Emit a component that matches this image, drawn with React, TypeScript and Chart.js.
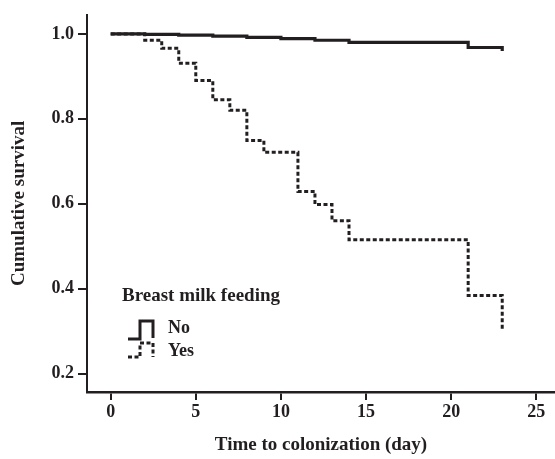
import React, { useEffect, useRef } from "react";
import { Chart, registerables } from "chart.js";

Chart.register(...registerables);

// Kaplan-Meier step data
const noTimes = [0, 2, 4, 6, 8, 10, 12, 14, 21, 23];
const noSurvival = [1.0, 0.999, 0.997, 0.995, 0.992, 0.989, 0.985, 0.98, 0.968, 0.96];
const yesTimes = [0, 2, 3, 4, 5, 6, 7, 8, 9, 11, 12, 13, 14, 21, 23];
const yesSurvival = [1.0, 0.985, 0.966, 0.931, 0.89, 0.845, 0.82, 0.749, 0.721, 0.629, 0.598, 0.56, 0.515, 0.384, 0.3];
const xTicks = [0, 5, 10, 15, 20, 25];
const yTicks = [0.2, 0.4, 0.6, 0.8, 1.0];
const legendTitle = "Breast milk feeding";
const seriesLabels = ["No", "Yes"];
const xTitle = "Time to colonization (day)";
const yTitle = "Cumulative survival";

const INK = "#231f20";
const FAMILY = '"Liberation Serif", "DejaVu Serif", serif';

const legendPlugin = {
  id: "kmLegend",
  afterDraw(chart: any) {
    const ctx = chart.ctx as CanvasRenderingContext2D;
    ctx.save();
    ctx.fillStyle = INK;
    ctx.strokeStyle = INK;
    ctx.textBaseline = "middle";
    ctx.textAlign = "left";
    ctx.font = `bold 19px ${FAMILY}`;
    ctx.fillText(legendTitle, 122, 296);

    // solid icon
    ctx.lineWidth = 3;
    ctx.setLineDash([]);
    ctx.beginPath();
    ctx.moveTo(128, 339);
    ctx.lineTo(140, 339);
    ctx.lineTo(140, 321);
    ctx.lineTo(153, 321);
    ctx.lineTo(153, 338);
    ctx.stroke();

    // dotted icon
    ctx.setLineDash([4, 2.5]);
    ctx.beginPath();
    ctx.moveTo(128, 357);
    ctx.lineTo(140, 357);
    ctx.lineTo(140, 343);
    ctx.lineTo(153, 343);
    ctx.lineTo(153, 357);
    ctx.stroke();
    ctx.setLineDash([]);

    ctx.font = `bold 18px ${FAMILY}`;
    ctx.fillText(seriesLabels[0], 168, 328);
    ctx.fillText(seriesLabels[1], 168, 351);
    ctx.restore();
  },
};

export default function App() {
  const ref = useRef<HTMLCanvasElement | null>(null);

  useEffect(() => {
    if (!ref.current) return;
    const chart = new Chart(ref.current, {
      type: "line",
      data: {
        datasets: [
          {
            label: seriesLabels[0],
            data: noTimes.map((t, i) => ({ x: t, y: noSurvival[i] })),
            borderColor: INK,
            borderWidth: 3.2,
            stepped: "before",
            pointRadius: 0,
            fill: false,
          },
          {
            label: seriesLabels[1],
            data: yesTimes.map((t, i) => ({ x: t, y: yesSurvival[i] })),
            borderColor: INK,
            borderWidth: 3,
            borderDash: [4, 2.5],
            stepped: "before",
            pointRadius: 0,
            fill: false,
          },
        ],
      },
      options: {
        animation: false,
        responsive: false,
        maintainAspectRatio: false,
        layout: { padding: { left: 0, right: 0, top: 10, bottom: 0 } },
        plugins: { legend: { display: false }, tooltip: { enabled: false } },
        scales: {
          x: {
            type: "linear",
            min: -1.39,
            max: 26.1,
            afterBuildTicks: (s: any) => {
              s.ticks = xTicks.map((v) => ({ value: v }));
            },
            afterFit: (s: any) => {
              s.height = 67;
            },
            grid: { drawOnChartArea: false, drawTicks: true, tickLength: 8, color: INK, lineWidth: 2 },
            border: { display: true, color: INK, width: 2.5 },
            ticks: {
              color: INK,
              font: { family: FAMILY, size: 18, weight: "bold" },
              padding: 2,
              maxRotation: 0,
              autoSkip: false,
              callback: (v: any) => String(v),
            },
            title: {
              display: true,
              text: xTitle,
              color: INK,
              font: { family: FAMILY, size: 19, weight: "bold" },
              padding: { top: 0, bottom: 3 },
            },
          },
          y: {
            type: "linear",
            min: 0.1565,
            max: 1.045,
            afterBuildTicks: (s: any) => {
              s.ticks = yTicks.map((v) => ({ value: v }));
            },
            afterFit: (s: any) => {
              s.width = 87;
            },
            grid: { drawOnChartArea: false, drawTicks: true, tickLength: 9, color: INK, lineWidth: 2 },
            border: { display: true, color: INK, width: 2 },
            ticks: {
              color: INK,
              font: { family: FAMILY, size: 18, weight: "bold" },
              padding: 4,
              autoSkip: false,
              callback: (v: any) => Number(v).toFixed(1),
            },
            title: {
              display: true,
              text: yTitle,
              color: INK,
              font: { family: FAMILY, size: 19, weight: "bold" },
              padding: { top: 8, bottom: 0 },
            },
          },
        },
      },
      plugins: [legendPlugin],
    } as any);
    return () => chart.destroy();
  }, []);

  return (
    <div style={{ position: "fixed", left: 0, top: 0, width: 555, height: 459, background: "#fff" }}>
      <canvas ref={ref} width={555} height={459} style={{ display: "block" }} />
    </div>
  );
}
